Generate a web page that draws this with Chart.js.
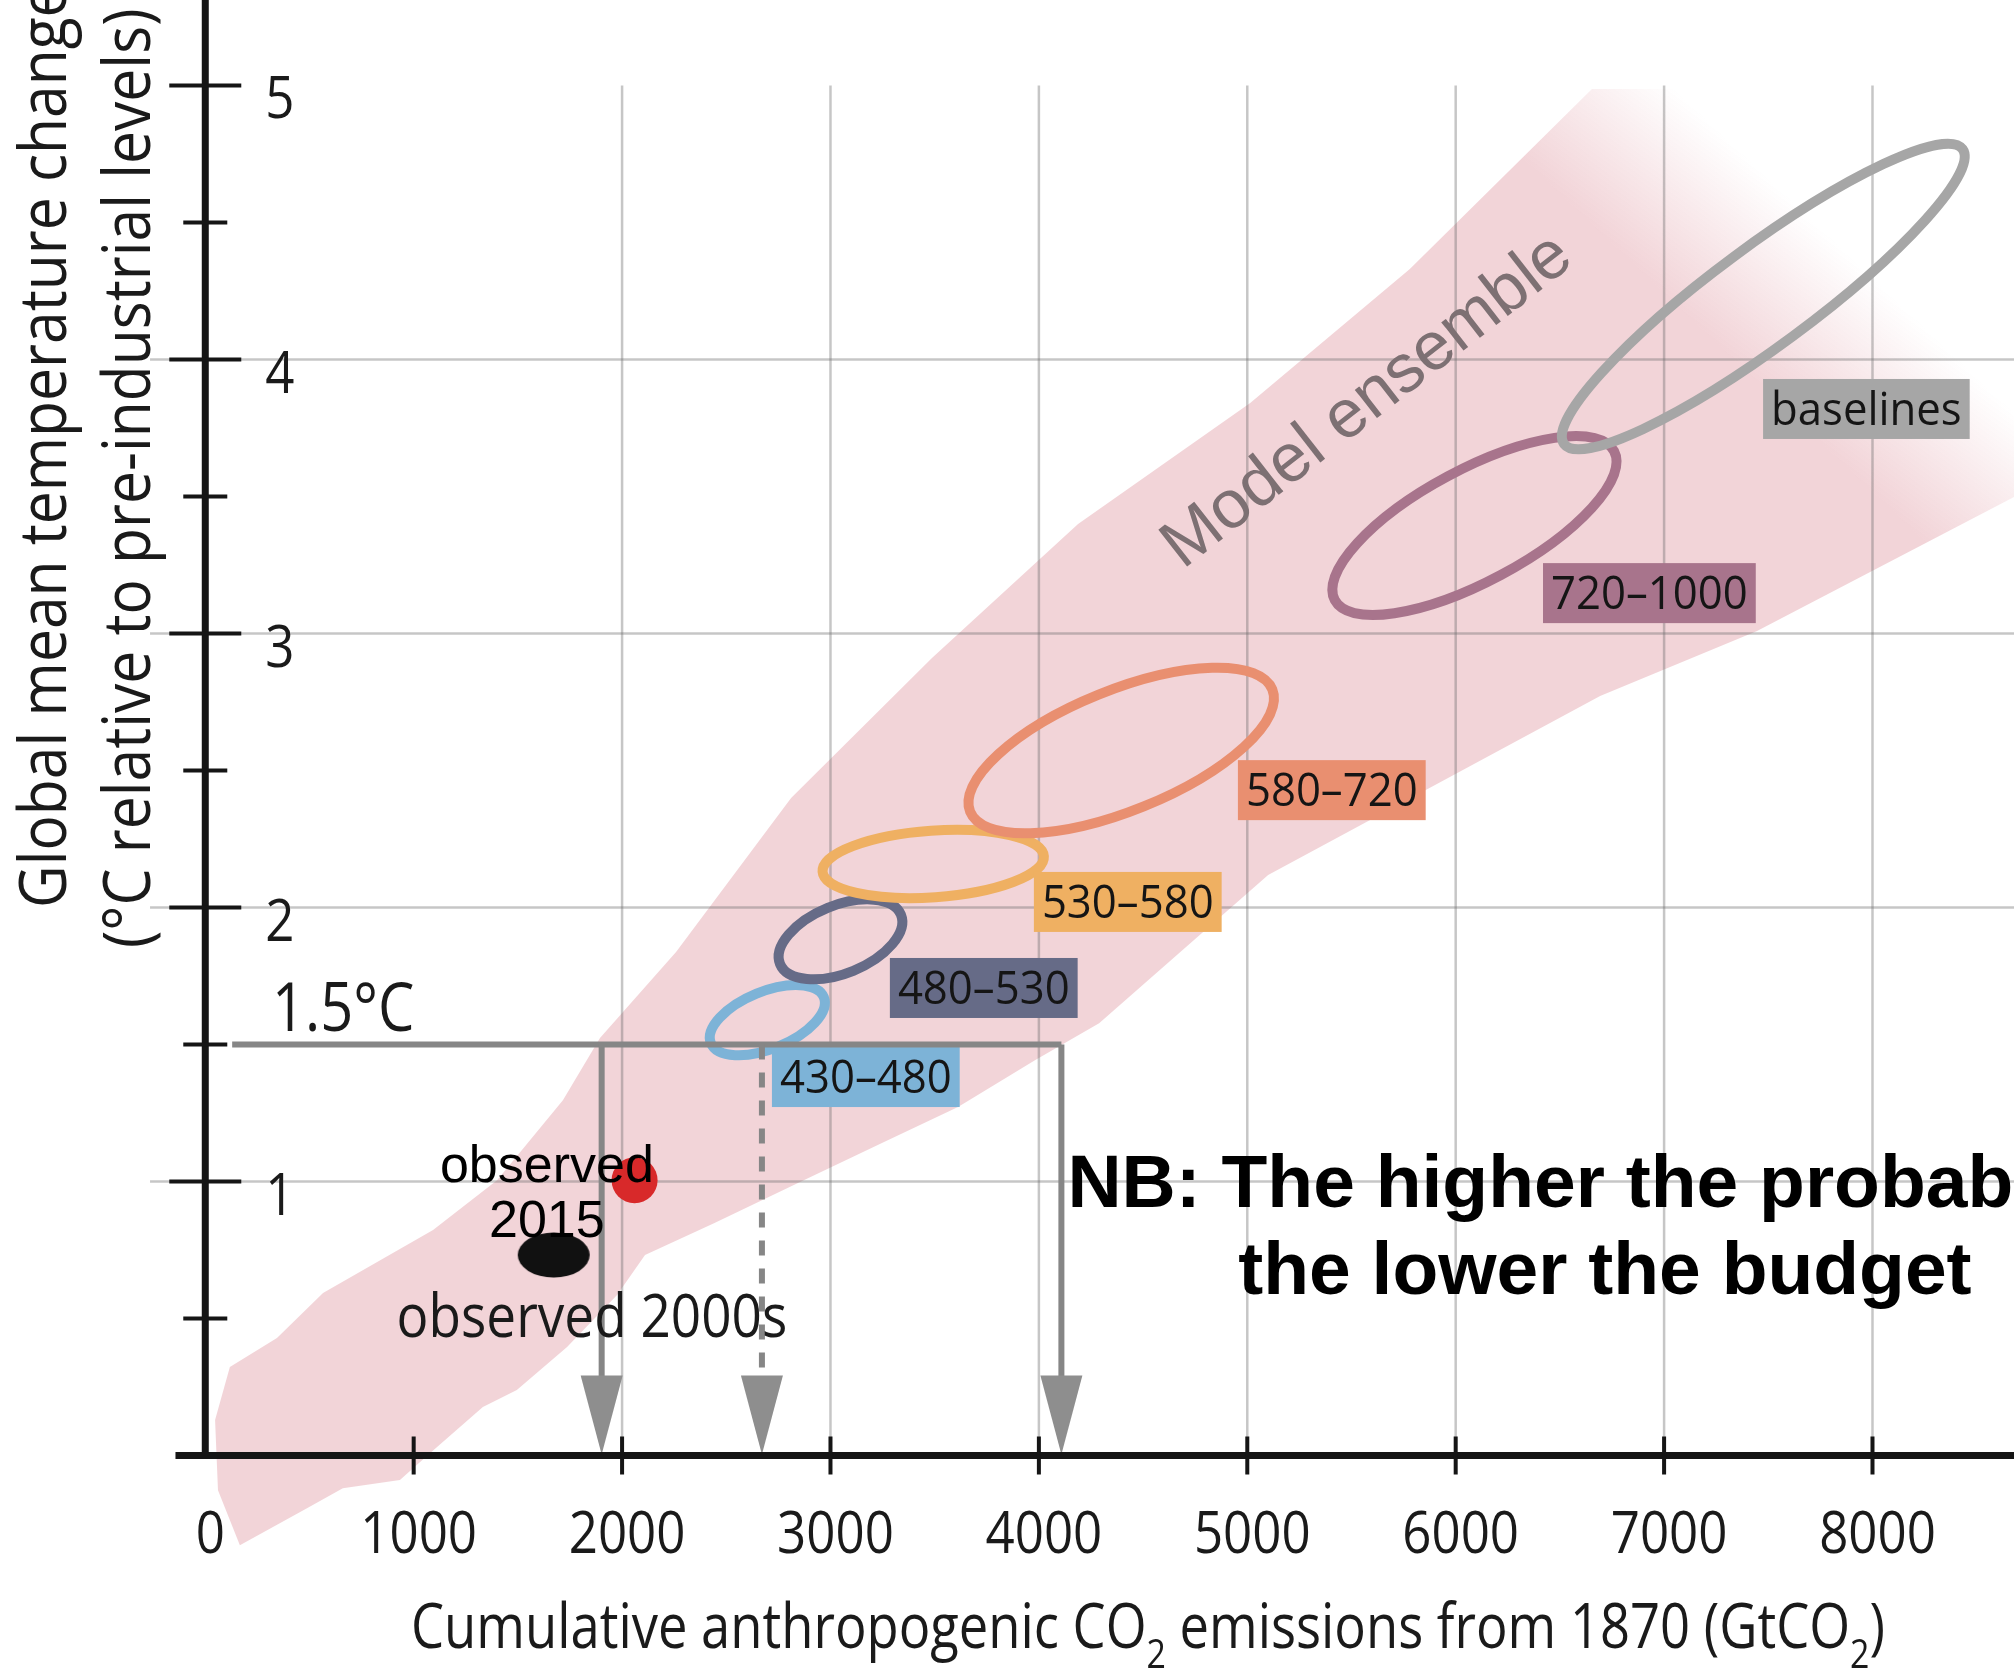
<!DOCTYPE html>
<html>
<head>
<meta charset="utf-8">
<script src="https://cdn.jsdelivr.net/npm/chart.js@4.4.1/dist/chart.umd.min.js"></script>
<style>
  html, body { margin: 0; padding: 0; background: #fff; }
  canvas { display: block; }
</style>
</head>
<body>
<canvas id="chart" width="2014" height="1674"></canvas>
<script>
/* ======================================================
   DATA
====================================================== */
// axes
const xTicks = [0, 1000, 2000, 3000, 4000, 5000, 6000, 7000, 8000];
const xGrid = [2000, 3000, 4000, 5000, 6000, 7000, 8000];
const yTicks = [1, 2, 3, 4, 5];
const yMinor = [0.5, 1.5, 2.5, 3.5, 4.5];
const yGrid = [1, 2, 3, 4];

// model ensemble envelope (closed outline, upper edge then lower edge)
const bandX = [47, 118, 344, 565, 1093, 1400, 1716, 1894, 2259, 2811, 3487, 4188, 5014, 5780, 6654, 7077, 8900,
               8900, 8679, 7446, 6693, 5100, 4289, 3981, 3612, 3247, 2844, 2441, 2110, 1976, 1736, 1495, 1332, 1078, 934, 660, 488, 166, 61];
const bandY = [0.130, 0.323, 0.429, 0.593, 0.823, 1.005, 1.297, 1.524, 1.838, 2.400, 2.911, 3.400, 3.841, 4.330, 4.987, 4.987, 3.9,
               3.586, 3.498, 3.009, 2.772, 2.119, 1.578, 1.443, 1.272, 1.141, 0.995, 0.848, 0.732, 0.586, 0.396, 0.239, 0.177, 0.009, -0.089, -0.119, -0.192, -0.327, -0.126];
// where the envelope fades out (top right)
const fadeX = [6692, 7205];
const fadeY = [4.465, 4.874];

// scenario ellipses (centre, end of long axis, short/long ratio)
const scenLabels = ["430\u2013480", "480\u2013530", "530\u2013580", "580\u2013720", "720\u20131000", "baselines"];
const scenCx = [2697, 3048, 3493, 4395, 6090, 7476];
const scenCy = [1.589, 1.884, 2.159, 2.573, 3.394, 4.230];
const scenEx = [2968, 3338, 4024, 5120, 6760, 8432];
const scenEy = [1.673, 1.974, 2.187, 2.796, 3.666, 4.768];
const scenRatio = [0.47, 0.52, 0.30, 0.37, 0.354, 0.20];
const scenLabelX = [2719, 3285, 3976, 4955, 6419, 7475];
const scenLabelY = [1.491, 1.816, 2.130, 2.538, 3.257, 3.929];

const threshold = 1.5;
const thresholdFrom = 129;
const budgetX = [1902, 2671, 4108];
const budgetDashed = [false, true, false];

// observations: 2015, 2000s
const obsX = [2060, 1672];
const obsY = [1.005, 0.732];

/* ======================================================
   STYLE
====================================================== */
const SCALE = { xMin: -985, xMax: 8679, yMin: -0.797, yMax: 5.312 };
const PINK = "242,212,216";
const CORES = {
  scen: ["#7db3d7", "#666b87", "#efb062", "#e98f70", "#a8748c", "#a6a6a6"],
  grid: "rgba(105,105,105,0.38)",
  axis: "#151515",
  budget: "#868686",
  head: "#8e8e8e",
  red: "#d8292a",
  text: "#1a1a1a"
};
const MYRIAD = '"Open Sans", "Noto Sans", sans-serif';
const HELV = '"Liberation Sans", Arial, sans-serif';

/* ======================================================
   UTIL
====================================================== */
function px(chart, x, y) {
  return [chart.scales.x.getPixelForValue(x), chart.scales.y.getPixelForValue(y)];
}

function drawText(ctx, s, x, y, o) {
  ctx.save();
  ctx.translate(x, y);
  if (o.rot) ctx.rotate(o.rot);
  ctx.scale(o.sx || 1, 1);
  ctx.font = (o.weight || "normal") + " " + o.size + "px " + (o.family || MYRIAD);
  ctx.fillStyle = o.color || CORES.text;
  ctx.textAlign = o.align || "left";
  ctx.textBaseline = "alphabetic";
  ctx.fillText(s, 0, 0);
  ctx.restore();
}

function measure(ctx, s, size, family, weight) {
  ctx.font = (weight || "normal") + " " + size + "px " + (family || MYRIAD);
  return ctx.measureText(s).width;
}

/* ======================================================
   DRAWING
====================================================== */
function drawGrid(chart) {
  const ctx = chart.ctx;
  ctx.save();
  ctx.strokeStyle = CORES.grid;
  ctx.lineWidth = 2.5;
  xGrid.forEach(v => {
    const [x, y0] = px(chart, v, 0);
    const [, y1] = px(chart, v, 5);
    ctx.beginPath(); ctx.moveTo(x, y0); ctx.lineTo(x, y1); ctx.stroke();
  });
  yGrid.forEach(v => {
    const [x0, y] = px(chart, -265, v);
    const [x1] = px(chart, SCALE.xMax, v);
    ctx.beginPath(); ctx.moveTo(x0, y); ctx.lineTo(x1, y); ctx.stroke();
  });
  ctx.restore();
}

function drawScenarios(chart) {
  const ctx = chart.ctx;
  ctx.save();
  scenLabels.forEach((_, i) => {
    const [cx, cy] = px(chart, scenCx[i], scenCy[i]);
    const [ex, ey] = px(chart, scenEx[i], scenEy[i]);
    const a = Math.hypot(ex - cx, ey - cy);
    ctx.beginPath();
    ctx.ellipse(cx, cy, a, a * scenRatio[i], Math.atan2(ey - cy, ex - cx), 0, Math.PI * 2);
    ctx.lineWidth = 10;
    ctx.strokeStyle = CORES.scen[i];
    ctx.stroke();
  });
  scenLabels.forEach((t, i) => {
    const [lx, ly] = px(chart, scenLabelX[i], scenLabelY[i]);
    const sx = 0.95, size = 46;
    const w = measure(ctx, t, size) * sx;
    ctx.fillStyle = CORES.scen[i];
    ctx.fillRect(lx, ly, w + 16, 60);
    drawText(ctx, t, lx + 8, ly + 46, { size, sx, color: "#151515" });
  });
  ctx.restore();
}

function drawArrowHeads(chart) {
  const ctx = chart.ctx;
  ctx.save();
  ctx.fillStyle = CORES.head;
  budgetX.forEach(b => {
    const [x, y] = px(chart, b, 0);
    ctx.beginPath();
    ctx.moveTo(x, y - 1);
    ctx.lineTo(x - 21, y - 80);
    ctx.lineTo(x + 21, y - 80);
    ctx.closePath();
    ctx.fill();
  });
  ctx.restore();
}

function drawAxes(chart) {
  const ctx = chart.ctx;
  const [ax, ay] = px(chart, 0, 0);
  ctx.save();
  ctx.strokeStyle = CORES.axis;
  ctx.lineWidth = 7;
  ctx.beginPath();
  ctx.moveTo(ax, px(chart, 0, SCALE.yMax)[1]);
  ctx.lineTo(ax, ay);
  ctx.moveTo(px(chart, -143, 0)[0], ay);
  ctx.lineTo(px(chart, SCALE.xMax, 0)[0], ay);
  ctx.stroke();

  ctx.lineWidth = 4;
  ctx.beginPath();
  yTicks.forEach(v => { const y = px(chart, 0, v)[1]; ctx.moveTo(ax - 36, y); ctx.lineTo(ax + 36, y); });
  yMinor.forEach(v => { const y = px(chart, 0, v)[1]; ctx.moveTo(ax - 22, y); ctx.lineTo(ax + 22, y); });
  xTicks.filter(v => v > 0).forEach(v => { const x = px(chart, v, 0)[0]; ctx.moveTo(x, ay - 19); ctx.lineTo(x, ay + 19); });
  ctx.stroke();
  ctx.restore();

  yTicks.forEach(v => {
    const y = px(chart, 0, v)[1];
    drawText(ctx, String(v), ax + 60, y + 33, { size: 58, sx: 0.88 });
  });
  xTicks.forEach(v => {
    const x = px(chart, v, 0)[0];
    drawText(ctx, String(v), x + 5, ay + 97, { size: 58, sx: 0.88, align: "center" });
  });

  // y title (two rotated lines, read bottom to top)
  drawText(ctx, "Global mean temperature change", 66, 908, { size: 66, sx: 0.89, rot: -Math.PI / 2 });
  drawText(ctx, "(\u00B0C relative to pre-industrial levels)", 150, 948, { size: 66, sx: 0.89, rot: -Math.PI / 2 });

  // x title with subscripts
  const parts = [["Cumulative anthropogenic CO", 0], ["2", 1], [" emissions from 1870 (GtCO", 0], ["2", 1], [")", 0]];
  let total = 0;
  parts.forEach(p => { p.push(measure(ctx, p[0], p[1] ? 40 : 62)); total += p[2]; });
  const sx = 1474 / total;
  let x = 411;
  parts.forEach(p => {
    drawText(ctx, p[0], x, 1648 + (p[1] ? 20 : 0), { size: p[1] ? 40 : 62, sx });
    x += p[2] * sx;
  });
}

function drawNotes(chart) {
  const ctx = chart.ctx;
  let p;
  p = px(chart, 320, 1.549);
  drawText(ctx, "1.5\u00B0C", p[0], p[1], { size: 68, sx: 0.85 });

  p = px(chart, 1639, 0.998);
  drawText(ctx, "observed", p[0], p[1], { size: 52, family: HELV, align: "center", color: "#000" });
  p = px(chart, 1639, 0.799);
  drawText(ctx, "2015", p[0], p[1], { size: 52, family: HELV, align: "center", color: "#000" });

  p = px(chart, 918, 0.434);
  drawText(ctx, "observed 2000s", p[0], p[1], { size: 60, sx: 0.885 });

  p = px(chart, 4690, 3.232);
  drawText(ctx, "Model ensemble", p[0], p[1], { size: 68, family: HELV, color: "#7d7073", rot: -38 * Math.PI / 180 });

  p = px(chart, 6716, 0.908);
  drawText(ctx, "NB: The higher the probability", p[0], p[1], { size: 75, family: HELV, weight: "bold", align: "center", color: "#000" });
  p = px(chart, 6716, 0.589);
  drawText(ctx, "the lower the budget", p[0], p[1], { size: 75, family: HELV, weight: "bold", align: "center", color: "#000" });
}

const desenhos = {
  id: "desenhos",
  afterDatasetDraw(chart, args) {
    if (args.index !== 0) return;
    drawGrid(chart);
    drawScenarios(chart);
  },
  afterDatasetsDraw(chart) { drawArrowHeads(chart); },
  afterDraw(chart) {
    drawAxes(chart);
    drawNotes(chart);
  }
};

/* ======================================================
   DATASETS
====================================================== */
function bandFill(ctx) {
  const chart = ctx.chart;
  if (!chart.chartArea) return "rgb(" + PINK + ")";
  const [x0, y0] = px(chart, fadeX[0], fadeY[0]);
  const [x1, y1] = px(chart, fadeX[1], fadeY[1]);
  const g = chart.ctx.createLinearGradient(x0, y0, x1, y1);
  g.addColorStop(0, "rgba(" + PINK + ",1)");
  g.addColorStop(1, "rgba(" + PINK + ",0)");
  return g;
}

const dot2000s = document.createElement("canvas");
dot2000s.width = 74; dot2000s.height = 46;
(() => {
  const c = dot2000s.getContext("2d");
  c.fillStyle = "#111";
  c.beginPath(); c.ellipse(37, 23, 36, 22.5, 0, 0, Math.PI * 2); c.fill();
})();

// higher "order" is painted first (underneath)
const datasets = [
  {
    data: bandX.map((x, i) => ({ x, y: bandY[i] })),
    showLine: true, fill: "shape", backgroundColor: bandFill,
    borderColor: "rgba(0,0,0,0)", pointRadius: 0, order: 100
  },
  {
    data: [{ x: thresholdFrom, y: threshold }, { x: budgetX[budgetX.length - 1], y: threshold }],
    showLine: true, borderColor: CORES.budget, borderWidth: 6, pointRadius: 0, borderCapStyle: "butt", order: 5
  }
];
budgetX.forEach((b, i) => {
  datasets.push({
    data: [{ x: b, y: threshold }, { x: b, y: 0.2 }],
    showLine: true, borderColor: CORES.budget, borderWidth: 6, pointRadius: 0,
    borderDash: budgetDashed[i] ? [15, 13] : [], order: 4
  });
});
datasets.push({
  data: [{ x: obsX[0], y: obsY[0] }],
  pointRadius: 23, pointBackgroundColor: CORES.red, pointBorderWidth: 0, order: 1
});
datasets.push({
  data: [{ x: obsX[1], y: obsY[1] }],
  pointRadius: 5, pointStyle: dot2000s, order: 1
});

new Chart(document.getElementById("chart"), {
  type: "scatter",
  data: { datasets },
  options: {
    responsive: false,
    animation: false,
    devicePixelRatio: 1,
    layout: { padding: 0, autoPadding: false },
    plugins: { legend: { display: false }, tooltip: { enabled: false } },
    elements: { line: { tension: 0 } },
    scales: {
      x: { type: "linear", min: SCALE.xMin, max: SCALE.xMax, display: false },
      y: { type: "linear", min: SCALE.yMin, max: SCALE.yMax, display: false }
    }
  },
  plugins: [desenhos]
});
</script>
</body>
</html>
